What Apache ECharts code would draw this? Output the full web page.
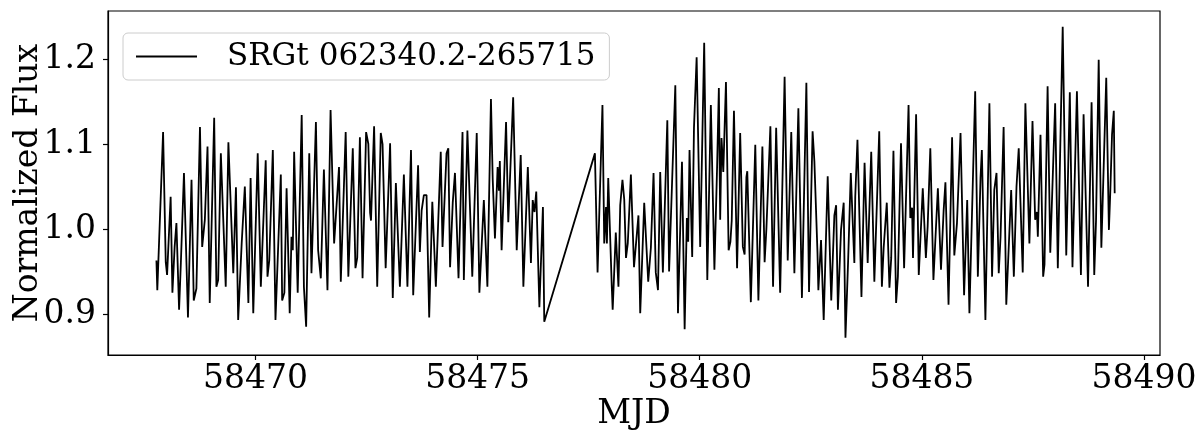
<!DOCTYPE html>
<html>
<head>
<meta charset="utf-8">
<script src="https://cdn.jsdelivr.net/npm/echarts@6/dist/echarts.min.js"></script>
<style>
html, body { margin: 0; padding: 0; background: #fff; }
#chart { width: 1200px; height: 446px; }
</style>
</head>
<body>
<div id="chart"></div>
<script>
// light curve, read peak by peak off the plot (first orbit, then second orbit)
var mjdOrbit1 = [
    58467.77, 58467.79, 58467.92, 58467.98, 58468.01, 58468.09, 58468.13, 58468.18, 58468.22, 58468.28, 58468.32,
    58468.39, 58468.48, 58468.56, 58468.61, 58468.67, 58468.75, 58468.80, 58468.86, 58468.92, 58468.97, 58469.07,
    58469.12, 58469.16, 58469.22, 58469.33, 58469.39, 58469.50, 58469.56, 58469.61, 58469.69, 58469.76, 58469.84,
    58469.89, 58469.95, 58470.05, 58470.12, 58470.23, 58470.27, 58470.31, 58470.39, 58470.45, 58470.57, 58470.60,
    58470.65, 58470.70, 58470.77, 58470.81, 58470.84, 58470.87, 58470.95, 58471.04, 58471.09, 58471.14, 58471.21,
    58471.26, 58471.36, 58471.41, 58471.47, 58471.54, 58471.62, 58471.69, 58471.77, 58471.88, 58471.92, 58472.03,
    58472.09, 58472.19, 58472.25, 58472.29, 58472.35, 58472.41, 58472.49, 58472.54, 58472.58, 58472.60, 58472.67,
    58472.74, 58472.82, 58472.86, 58472.93, 58473.03, 58473.09, 58473.16, 58473.25, 58473.34, 58473.42, 58473.50,
    58473.55, 58473.66, 58473.70, 58473.74, 58473.79, 58473.85, 58473.91, 58473.98, 58474.06, 58474.17, 58474.21,
    58474.30, 58474.34, 58474.38, 58474.44, 58474.49, 58474.57, 58474.66, 58474.69, 58474.77, 58474.81, 58474.88,
    58474.98, 58475.04, 58475.14, 58475.22, 58475.30, 58475.34, 58475.39, 58475.45, 58475.48, 58475.50, 58475.54,
    58475.64, 58475.69, 58475.80, 58475.88, 58475.97, 58476.03, 58476.13, 58476.20, 58476.24, 58476.28, 58476.32,
    58476.37, 58476.39, 58476.47, 58476.50
];
var fluxOrbit1 = [
    0.963, 0.928, 1.114, 0.961, 0.946, 1.038, 0.925, 0.979, 1.007, 0.905, 0.960,
    1.066, 0.896, 1.058, 0.916, 0.930, 1.120, 0.979, 1.011, 1.097, 0.913, 1.131,
    0.932, 0.940, 1.089, 0.932, 1.102, 0.948, 1.049, 0.893, 0.984, 1.050, 0.913,
    1.060, 0.901, 1.089, 0.932, 1.081, 0.944, 0.963, 1.093, 0.893, 1.064, 0.916,
    0.925, 1.048, 0.901, 0.991, 0.975, 1.091, 0.925, 1.134, 0.932, 0.885, 1.089,
    0.948, 1.126, 0.975, 0.942, 1.070, 0.928, 1.140, 0.983, 1.073, 0.938, 1.114,
    0.944, 1.095, 0.954, 0.966, 1.108, 0.942, 1.114, 1.100, 1.019, 1.010, 1.121,
    0.932, 1.113, 1.100, 0.954, 1.101, 0.919, 1.054, 0.932, 1.064, 0.932, 1.093,
    0.922, 1.075, 0.973, 1.022, 1.040, 1.040, 0.896, 1.032, 0.932, 1.091, 0.979,
    1.089, 1.095, 0.955, 1.031, 1.066, 0.942, 1.114, 0.940, 1.116, 1.116, 0.944,
    1.113, 0.925, 1.034, 0.932, 1.153, 1.058, 0.989, 1.073, 1.045, 1.080, 0.975,
    1.126, 1.008, 1.155, 0.975, 1.087, 0.932, 1.073, 0.960, 1.034, 1.020, 1.044,
    0.946, 0.908, 1.026, 0.891
];
var mjdOrbit2 = [
    58477.64, 58477.70, 58477.81, 58477.85, 58477.89, 58477.91, 58477.94, 58478.02, 58478.04, 58478.11, 58478.17,
    58478.21, 58478.26, 58478.30, 58478.34, 58478.38, 58478.45, 58478.52, 58478.56, 58478.62, 58478.66, 58478.75,
    58478.84, 58478.90, 58478.96, 58479.01, 58479.06, 58479.11, 58479.17, 58479.27, 58479.31, 58479.45, 58479.51,
    58479.60, 58479.66, 58479.71, 58479.74, 58479.77, 58479.83, 58479.87, 58479.93, 58480.01, 58480.10, 58480.17,
    58480.25, 58480.33, 58480.39, 58480.43, 58480.46, 58480.49, 58480.53, 58480.59, 58480.65, 58480.69, 58480.72,
    58480.77, 58480.84, 58480.91, 58480.97, 58481.01, 58481.05, 58481.07, 58481.15, 58481.25, 58481.32, 58481.41,
    58481.46, 58481.50, 58481.59, 58481.65, 58481.72, 58481.81, 58481.91, 58481.98, 58482.06, 58482.13, 58482.22,
    58482.30, 58482.40, 58482.46, 58482.54, 58482.58, 58482.65, 58482.67, 58482.73, 58482.79, 58482.88, 58482.96,
    58483.03, 58483.07, 58483.11, 58483.18, 58483.24, 58483.28, 58483.34, 58483.40, 58483.48, 58483.50, 58483.55,
    58483.64, 58483.71, 58483.78, 58483.86, 58483.93, 58483.97, 58484.04, 58484.10, 58484.14, 58484.21, 58484.27,
    58484.31, 58484.36, 58484.42, 58484.46, 58484.53, 58484.60, 58484.70, 58484.74, 58484.78, 58484.80, 58484.87,
    58484.93, 58485.02, 58485.09, 58485.13, 58485.19, 58485.26, 58485.30, 58485.36, 58485.43, 58485.49, 58485.53,
    58485.60, 58485.68, 58485.73, 58485.79, 58485.87, 58485.95, 58486.02, 58486.07, 58486.20, 58486.26, 58486.32,
    58486.35, 58486.43, 58486.52, 58486.58, 58486.63, 58486.68, 58486.73, 58486.77, 58486.84, 58486.90, 58487.01,
    58487.07, 58487.13, 58487.18, 58487.27, 58487.33, 58487.42, 58487.49, 58487.55, 58487.59, 58487.61, 58487.67,
    58487.73, 58487.76, 58487.83, 58487.89, 58488.00, 58488.06, 58488.17, 58488.25, 58488.33, 58488.39, 58488.49,
    58488.58, 58488.64, 58488.74, 58488.82, 58488.88, 58488.92, 58488.98, 58489.04, 58489.15, 58489.21, 58489.24,
    58489.28, 58489.32, 58489.34
];
var fluxOrbit2 = [
    1.089, 0.949, 1.146, 0.983, 1.026, 0.983, 1.060, 0.932, 0.905, 0.996, 0.932,
    1.028, 1.058, 1.035, 0.966, 0.983, 1.064, 0.955, 0.957, 1.016, 0.901, 1.031,
    0.938, 0.978, 1.066, 0.949, 0.928, 1.067, 0.949, 1.128, 0.950, 1.169, 0.901,
    1.079, 0.882, 1.013, 0.985, 1.093, 0.967, 1.119, 1.202, 0.979, 1.219, 0.940,
    1.146, 0.952, 1.072, 1.166, 1.011, 1.107, 1.067, 1.173, 0.975, 0.985, 1.010,
    1.139, 0.954, 1.113, 0.979, 0.970, 1.061, 1.068, 0.914, 1.099, 0.916, 1.097,
    0.961, 1.000, 1.121, 0.932, 1.119, 0.925, 1.179, 0.963, 1.114, 0.948, 1.142,
    0.919, 1.172, 0.926, 1.115, 1.080, 0.972, 0.928, 0.987, 0.893, 1.062, 0.916,
    1.016, 1.028, 0.905, 0.999, 1.031, 0.872, 0.963, 1.066, 0.960, 1.038, 1.105,
    0.920, 1.078, 0.960, 1.091, 0.938, 0.938, 1.115, 0.932, 0.978, 1.031, 0.931,
    0.966, 1.092, 0.913, 0.944, 1.101, 0.954, 1.146, 1.013, 1.025, 0.966, 1.135,
    0.946, 1.048, 0.966, 1.003, 1.095, 0.940, 0.938, 1.048, 0.952, 1.022, 1.055,
    0.911, 1.108, 0.969, 1.007, 1.113, 0.922, 1.034, 0.901, 1.162, 0.944, 1.060,
    1.093, 0.893, 1.148, 0.944, 1.046, 1.066, 0.948, 0.990, 1.120, 0.911, 1.046,
    0.944, 1.050, 1.095, 0.949, 1.148, 0.983, 1.127, 1.011, 1.020, 0.991, 1.111,
    0.944, 0.958, 1.168, 0.972, 1.148, 0.954, 1.238, 0.969, 1.161, 0.955, 1.162,
    0.946, 1.135, 0.932, 1.149, 0.946, 1.010, 1.199, 0.978, 1.178, 0.999, 1.042,
    1.111, 1.139, 1.042
];
var xTicks = [58470, 58475, 58480, 58485, 58490];
var yTicks = [0.9, 1.0, 1.1, 1.2];
var starName = 'SRGt 062340.2-265715';

var mjd = mjdOrbit1.concat(mjdOrbit2);
var flux = fluxOrbit1.concat(fluxOrbit2);
var points = mjd.map(function (t, i) {
    return [t, flux[i]];
});

var font = 'DejaVu Serif';
var myChart = echarts.init(document.getElementById('chart'));

option = {
    animation: false,
    backgroundColor: '#fff',
    grid: {
        left: 108,
        right: 40,
        top: 11,
        bottom: 91,
        outerBoundsMode: 'none',
        containLabel: false,
        show: true,
        borderColor: '#000',
        borderWidth: 1.2
    },
    legend: {
        left: 123,
        top: 33,
        padding: [8, 14, 8, 13],
        icon: 'rect',
        itemWidth: 61,
        itemHeight: 2,
        backgroundColor: '#fff',
        borderColor: '#cccccc',
        borderWidth: 1,
        borderRadius: 5,
        textStyle: {
            fontFamily: font,
            fontSize: 31,
            color: '#000',
            padding: [0, 0, 0, 25]
        },
        data: [starName]
    },
    xAxis: {
        type: 'value',
        min: 58466.68,
        max: 58490.36,
        name: 'MJD',
        nameLocation: 'middle',
        nameGap: 43,
        nameMoveOverlap: false,
        nameTextStyle: { fontFamily: font, fontSize: 33, color: '#000' },
        axisLine: { show: true, lineStyle: { color: '#000', width: 1.2 } },
        axisTick: { show: true, length: 5, customValues: xTicks, lineStyle: { color: '#000', width: 1.2 } },
        axisLabel: {
            customValues: xTicks,
            fontFamily: font,
            fontSize: 33,
            color: '#000',
            margin: 8,
            formatter: function (v) {
                return String(v);
            }
        },
        splitLine: { show: false }
    },
    yAxis: {
        type: 'value',
        min: 0.8518,
        max: 1.2565,
        name: 'Normalized Flux',
        nameLocation: 'middle',
        nameGap: 63,
        nameMoveOverlap: false,
        nameTextStyle: { fontFamily: font, fontSize: 33, color: '#000' },
        axisLine: { show: true, lineStyle: { color: '#000', width: 1.2 } },
        axisTick: { show: true, length: 5, customValues: yTicks, lineStyle: { color: '#000', width: 1.2 } },
        axisLabel: {
            customValues: yTicks,
            fontFamily: font,
            fontSize: 33,
            color: '#000',
            margin: 12,
            formatter: function (v) {
                return v.toFixed(1);
            }
        },
        splitLine: { show: false }
    },
    series: [
        {
            name: starName,
            type: 'line',
            data: points,
            symbol: 'none',
            lineStyle: { color: '#000', width: 1.8 },
            itemStyle: { color: '#000' }
        }
    ]
};

myChart.setOption(option);
</script>
</body>
</html>
